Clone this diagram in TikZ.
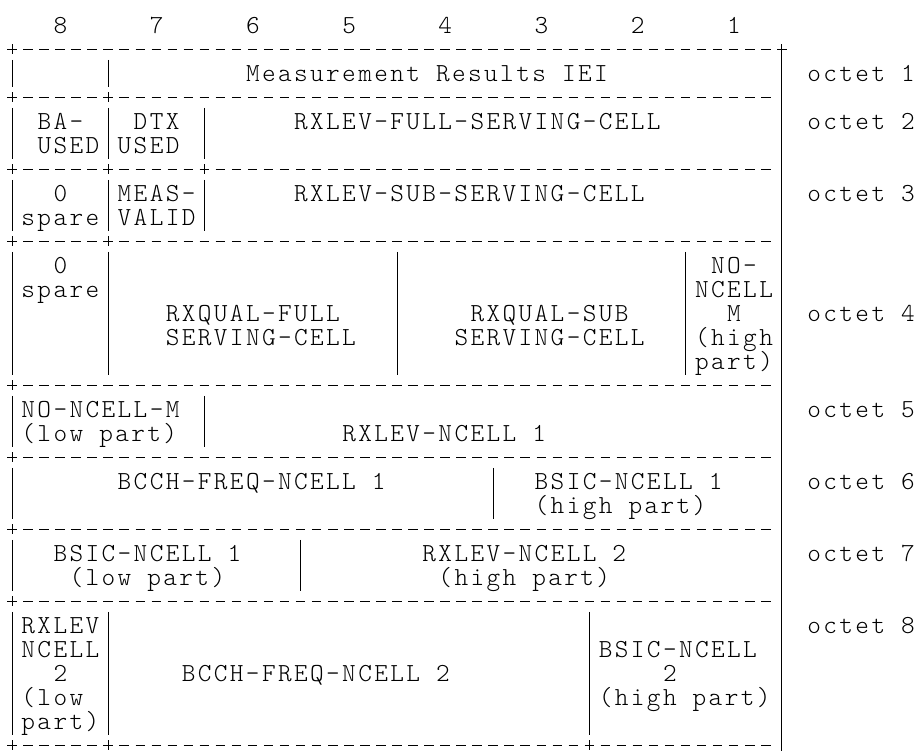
\documentclass[tikz,border=0pt]{standalone}
\usepackage{fontspec}
\newfontfamily\cellfont{lmmonolt10-regular.otf}[LetterSpace=9.19]
\newcommand\cellgap{\hspace{16.04pt}}

\begin{document}
\begin{tikzpicture}[
  x=16.04pt, y=-24pt,
  every node/.style={inner sep=0pt},
  txt/.style={anchor=base west, xshift=-6.8pt, yshift=-7.8pt,
    font=\cellfont\fontsize{26pt}{26pt}\selectfont},
  rule/.style={draw, line width=0.9pt},
  sep/.style={draw, line width=0.9pt, dash pattern=on 9.5pt off 6.54pt}]

  \useasboundingbox (-0.75,-1.06) rectangle (56.61,30.23);

  %% ---------------- bit numbers ----------------
  \node[txt] (bit8) at (3,0) {8};
  \node[txt] (bit7) at (9,0) {7};
  \node[txt] (bit6) at (15,0) {6};
  \node[txt] (bit5) at (21,0) {5};
  \node[txt] (bit4) at (27,0) {4};
  \node[txt] (bit3) at (33,0) {3};
  \node[txt] (bit2) at (39,0) {2};
  \node[txt] (bit1) at (45,0) {1};

  %% ---------------- octet 1 ----------------
  % rules
  \draw[sep]  (-0.3,1) -- (48.3,1);
  \draw[rule] (0,0.79) -- (0,1.21);
  \draw[rule] (48,0.79) -- (48,30.23);
  \draw[rule] (0,1.44) -- (0,2.58);
  \draw[rule] (6,1.44) -- (6,2.58);
  % texts
  \node[txt] (iei)  at (15,2) {Measurement\cellgap Results\cellgap IEI};
  \node[txt] (oct1) at (50,2) {octet\cellgap 1};

  %% ---------------- octet 2 ----------------
  % rules
  \draw[sep]  (-0.3,3) -- (47.3,3);
  \draw[rule] (0,2.79) -- (0,3.21);
  \draw[rule] (6,2.79) -- (6,3.21);
  \draw[rule] (0,3.44) -- (0,5.58);
  \draw[rule] (6,3.44) -- (6,5.58);
  \draw[rule] (12,3.44) -- (12,5.58);
  % texts
  \node[txt] (baA)  at (2,4)  {BA-};
  \node[txt] (baB)  at (2,5)  {USED};
  \node[txt] (dtxA) at (8,4)  {DTX};
  \node[txt] (dtxB) at (7,5)  {USED};
  \node[txt] (lvf)  at (18,4) {RXLEV-FULL-SERVING-CELL};
  \node[txt] (oct2) at (50,4) {octet\cellgap 2};

  %% ---------------- octet 3 ----------------
  % rules
  \draw[sep]  (-0.3,6) -- (47.3,6);
  \draw[rule] (0,5.79) -- (0,6.21);
  \draw[rule] (6,5.79) -- (6,6.21);
  \draw[rule] (12,5.79) -- (12,6.21);
  \draw[rule] (0,6.44) -- (0,8.58);
  \draw[rule] (6,6.44) -- (6,8.58);
  \draw[rule] (12,6.44) -- (12,8.58);
  % texts
  \node[txt] (spA3) at (3,7)  {0};
  \node[txt] (spB3) at (1,8)  {spare};
  \node[txt] (mvA)  at (7,7)  {MEAS-};
  \node[txt] (mvB)  at (7,8)  {VALID};
  \node[txt] (lvs)  at (18,7) {RXLEV-SUB-SERVING-CELL};
  \node[txt] (oct3) at (50,7) {octet\cellgap 3};

  %% ---------------- octet 4 ----------------
  % rules
  \draw[sep]  (-0.3,9) -- (47.3,9);
  \draw[rule] (0,8.79) -- (0,9.21);
  \draw[rule] (6,8.79) -- (6,9.21);
  \draw[rule] (0,9.44) -- (0,14.58);
  \draw[rule] (6,9.44) -- (6,14.58);
  \draw[rule] (24,9.44) -- (24,14.58);
  \draw[rule] (42,9.44) -- (42,14.58);
  % texts
  \node[txt] (spA4) at (3,10)  {0};
  \node[txt] (spB4) at (1,11)  {spare};
  \node[txt] (qfA)  at (10,12) {RXQUAL-FULL};
  \node[txt] (qfB)  at (10,13) {SERVING-CELL};
  \node[txt] (qsA)  at (29,12) {RXQUAL-SUB};
  \node[txt] (qsB)  at (28,13) {SERVING-CELL};
  \node[txt] (nmA)  at (44,10) {NO-};
  \node[txt] (nmB)  at (43,11) {NCELL};
  \node[txt] (nmC)  at (45,12) {M};
  \node[txt] (nmD)  at (43,13) {(high};
  \node[txt] (nmE)  at (43,14) {part)};
  \node[txt] (oct4) at (50,12) {octet\cellgap 4};

  %% ---------------- octet 5 ----------------
  % rules
  \draw[sep]  (-0.3,15) -- (47.3,15);
  \draw[rule] (0,14.79) -- (0,15.21);
  \draw[rule] (0,15.44) -- (0,17.58);
  \draw[rule] (12,15.44) -- (12,17.58);
  % texts
  \node[txt] (nlA)  at (1,16)  {NO-NCELL-M};
  \node[txt] (nlB)  at (1,17)  {(low\cellgap part)};
  \node[txt] (ln1)  at (21,17) {RXLEV-NCELL\cellgap 1};
  \node[txt] (oct5) at (50,16) {octet\cellgap 5};

  %% ---------------- octet 6 ----------------
  % rules
  \draw[sep]  (-0.3,18) -- (47.3,18);
  \draw[rule] (0,17.79) -- (0,18.21);
  \draw[rule] (0,18.44) -- (0,20.58);
  \draw[rule] (30,18.44) -- (30,20.58);
  % texts
  \node[txt] (bf1)  at (7,19)  {BCCH-FREQ-NCELL\cellgap 1};
  \node[txt] (bhA)  at (33,19) {BSIC-NCELL\cellgap 1};
  \node[txt] (bhB)  at (33,20) {(high\cellgap part)};
  \node[txt] (oct6) at (50,19) {octet\cellgap 6};

  %% ---------------- octet 7 ----------------
  % rules
  \draw[sep]  (-0.3,21) -- (47.3,21);
  \draw[rule] (0,20.79) -- (0,21.21);
  \draw[rule] (0,21.44) -- (0,23.58);
  \draw[rule] (18,21.44) -- (18,23.58);
  % texts
  \node[txt] (blA)  at (3,22)  {BSIC-NCELL\cellgap 1};
  \node[txt] (blB)  at (4,23)  {(low\cellgap part)};
  \node[txt] (lhA)  at (26,22) {RXLEV-NCELL\cellgap 2};
  \node[txt] (lhB)  at (27,23) {(high\cellgap part)};
  \node[txt] (oct7) at (50,22) {octet\cellgap 7};

  %% ---------------- octet 8 ----------------
  % rules
  \draw[sep]  (-0.3,24) -- (47.3,24);
  \draw[rule] (0,23.79) -- (0,24.21);
  \draw[rule] (0,24.44) -- (0,29.58);
  \draw[rule] (6,24.44) -- (6,29.58);
  \draw[rule] (36,24.44) -- (36,29.58);
  % texts
  \node[txt] (llA)  at (1,25)  {RXLEV};
  \node[txt] (llB)  at (1,26)  {NCELL};
  \node[txt] (llC)  at (3,27)  {2};
  \node[txt] (llD)  at (1,28)  {(low};
  \node[txt] (llE)  at (1,29)  {part)};
  \node[txt] (bf2)  at (11,27) {BCCH-FREQ-NCELL\cellgap 2};
  \node[txt] (b2A)  at (37,26) {BSIC-NCELL};
  \node[txt] (b2B)  at (41,27) {2};
  \node[txt] (b2C)  at (37,28) {(high\cellgap part)};
  \node[txt] (oct8) at (50,25) {octet\cellgap 8};

  %% ---------------- bottom rule ----------------
  \draw[sep]  (-0.3,30) -- (47.3,30);
  \draw[rule] (0,29.79) -- (0,30.21);
  \draw[rule] (6,29.79) -- (6,30.21);
  \draw[rule] (36,29.79) -- (36,30.21);

\end{tikzpicture}
\end{document}
